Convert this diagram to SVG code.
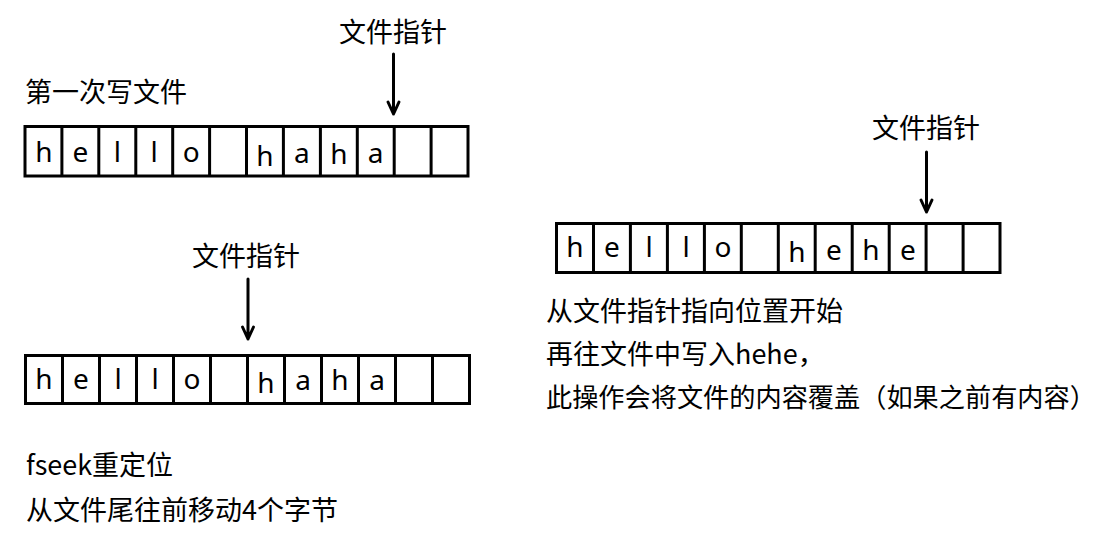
<svg xmlns="http://www.w3.org/2000/svg" width="1110" height="545" viewBox="0 0 1110 545">
<style>
.lbl{font-family:"Noto Sans CJK SC","Noto Sans",sans-serif;font-size:27px;fill:#000}
.ch{font-family:"Noto Sans","Noto Sans CJK SC",sans-serif;font-size:28px;fill:#000;text-anchor:middle}
.box{fill:#fff;stroke:#000;stroke-width:3}
.div{stroke:#000;stroke-width:3}
.arr{stroke:#000;stroke-width:3;fill:none;stroke-linecap:round;stroke-linejoin:round}
</style>
<rect width="1110" height="545" fill="#fff"/>
<g id="title1"><text class="lbl" x="25" y="102">第一次写文件</text></g>
<g id="ptr1"><text class="lbl" x="339" y="42">文件指针</text></g>
<g id="buffer1">
<rect class="box" x="25" y="126.5" width="443" height="49.5"/>
<path class="div" d="M61.9 126.5V176M98.8 126.5V176M135.8 126.5V176M172.7 126.5V176M209.6 126.5V176M246.5 126.5V176M283.4 126.5V176M320.4 126.5V176M357.3 126.5V176M394.2 126.5V176M431.1 126.5V176"/>
<text class="ch" x="44" y="162">h</text><text class="ch" x="80.4" y="162">e</text><text class="ch" x="117.3" y="162">l</text><text class="ch" x="154.2" y="162">l</text><text class="ch" x="191.2" y="162">o</text>
<text class="ch" x="265" y="166">h</text><text class="ch" x="301.9" y="163">a</text><text class="ch" x="338.8" y="164">h</text><text class="ch" x="375.7" y="163">a</text>
</g>
<g id="ptr2"><text class="lbl" x="192" y="266">文件指针</text></g>
<g id="buffer2">
<rect class="box" x="25.5" y="355.5" width="444" height="48"/>
<path class="div" d="M62.5 355.5V403.5M99.5 355.5V403.5M136.5 355.5V403.5M173.5 355.5V403.5M210.5 355.5V403.5M247.5 355.5V403.5M284.5 355.5V403.5M321.5 355.5V403.5M358.5 355.5V403.5M395.5 355.5V403.5M432.5 355.5V403.5"/>
<text class="ch" x="44" y="389">h</text><text class="ch" x="81" y="389">e</text><text class="ch" x="118" y="389">l</text><text class="ch" x="155" y="389">l</text><text class="ch" x="192" y="389">o</text>
<text class="ch" x="266" y="393">h</text><text class="ch" x="303" y="390">a</text><text class="ch" x="340" y="390">h</text><text class="ch" x="377" y="390">a</text>
</g>
<g id="note1">
<text class="lbl" x="26" y="475">fseek重定位</text>
<text class="lbl" x="26" y="520">从文件尾往前移动4个字节</text>
</g>
<g id="ptr3"><text class="lbl" x="872" y="138">文件指针</text></g>
<g id="buffer3">
<rect class="box" x="556.5" y="223.5" width="443.5" height="49"/>
<path class="div" d="M593.5 223.5V272.5M630.4 223.5V272.5M667.4 223.5V272.5M704.4 223.5V272.5M741.3 223.5V272.5M778.3 223.5V272.5M815.2 223.5V272.5M852.2 223.5V272.5M889.2 223.5V272.5M926.1 223.5V272.5M963.1 223.5V272.5"/>
<text class="ch" x="575" y="257">h</text><text class="ch" x="612" y="257">e</text><text class="ch" x="649" y="257">l</text><text class="ch" x="686" y="257">l</text><text class="ch" x="723" y="257">o</text>
<text class="ch" x="797" y="262">h</text><text class="ch" x="834" y="260">e</text><text class="ch" x="871" y="260">h</text><text class="ch" x="908" y="260">e</text>
</g>
<g id="note2">
<text class="lbl" x="546" y="321">从文件指针指向位置开始</text>
<text class="lbl" x="546" y="364">再往文件中写入hehe，</text>
<text class="lbl" x="546" y="407" style="font-size:26.2px">此操作会将文件的内容覆盖（如果之前有内容）</text>
</g>
<g id="connectors">
<path class="arr" d="M393.5 54V114M388 102L393.5 114L399 102"/>
<path class="arr" d="M248 279V339M242.5 327L248 339L253.5 327"/>
<path class="arr" d="M926.5 152V212M921 200L926.5 212L932 200"/>
</g>
</svg>
